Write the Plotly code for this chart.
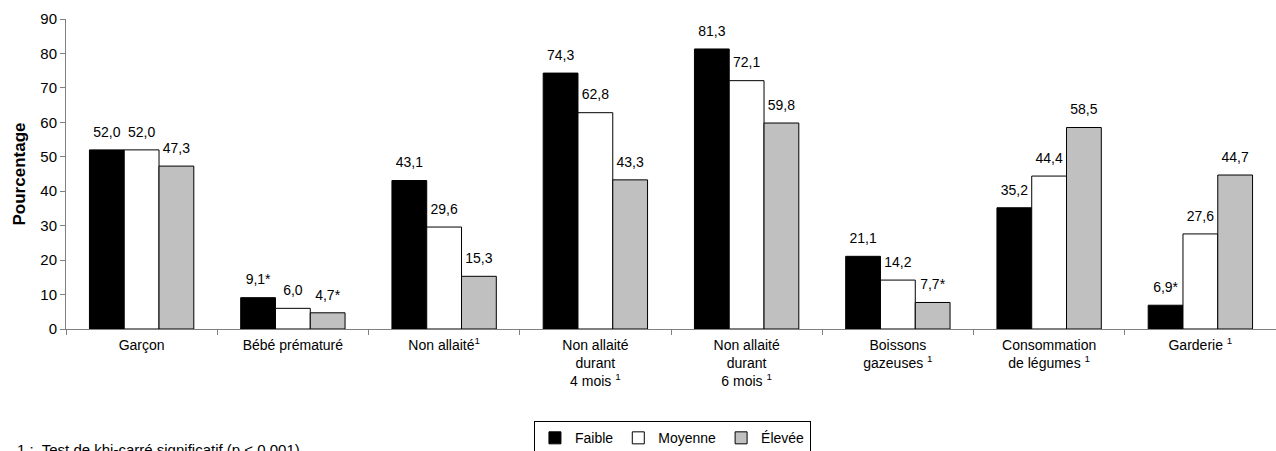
import plotly.graph_objects as go

# Catégories (axe des x) et séries par niveau
categories = [
    "Garçon",
    "Bébé prématuré",
    "Non allaité<sup>1</sup>",
    "Non allaité<br>durant<br>4 mois <sup>1</sup>",
    "Non allaité<br>durant<br>6 mois <sup>1</sup>",
    "Boissons<br>gazeuses <sup>1</sup>",
    "Consommation<br>de légumes <sup>1</sup>",
    "Garderie <sup>1</sup>",
]
faible = [52.0, 9.1, 43.1, 74.3, 81.3, 21.1, 35.2, 6.9]
moyenne = [52.0, 6.0, 29.6, 62.8, 72.1, 14.2, 44.4, 27.6]
elevee = [47.3, 4.7, 15.3, 43.3, 59.8, 7.7, 58.5, 44.7]

# Astérisque : estimation à interpréter avec prudence
faible_flag = [False, True, False, False, False, False, False, True]
moyenne_flag = [False] * 8
elevee_flag = [False, True, False, False, False, True, False, False]

FONT = "Arial, Liberation Sans, sans-serif"
GAP = 0.31


def labels(values, flags):
    out = []
    for v, f in zip(values, flags):
        s = f"{v:.1f}".replace(".", ",")
        out.append(s + ("*" if f else ""))
    return out


series = [
    ("Faible", faible, faible_flag, "#000000"),
    ("Moyenne", moyenne, moyenne_flag, "#ffffff"),
    ("Élevée", elevee, elevee_flag, "#c0c0c0"),
]

fig = go.Figure()
for name, vals, flags, color in series:
    fig.add_trace(go.Bar(
        name=name,
        x=categories,
        y=vals,
        offsetgroup=name,
        marker=dict(color=color, line=dict(color="#000000", width=1)),
    ))

# Étiquettes de valeur au-dessus de chaque barre
for name, vals, flags, color in series:
    fig.add_trace(go.Scatter(
        x=categories,
        y=vals,
        offsetgroup=name,
        mode="markers+text",
        marker=dict(size=14, color="rgba(0,0,0,0)"),
        text=labels(vals, flags),
        textposition="top center",
        textfont=dict(family=FONT, size=14, color="#000000"),
        cliponaxis=False,
        showlegend=False,
        hoverinfo="skip",
    ))

fig.update_layout(
    width=1276,
    height=451,
    margin=dict(l=66, r=0, t=19, b=122),
    paper_bgcolor="#ffffff",
    plot_bgcolor="#ffffff",
    barmode="group",
    bargap=GAP,
    bargroupgap=0,
    scattermode="group",
    scattergap=GAP,
    font=dict(family=FONT, size=14, color="#000000"),
    showlegend=True,
    legend=dict(
        orientation="h",
        xref="container",
        yref="container",
        x=0.527,
        xanchor="center",
        y=0.066,
        yanchor="top",
        bordercolor="#000000",
        borderwidth=1,
        font=dict(family=FONT, size=14),
        itemwidth=30,
        tracegroupgap=0,
    ),
    annotations=[
        dict(
            text="1 :  Test de khi-carré significatif (p < 0,001)",
            xref="paper", yref="paper",
            x=-0.042, y=-0.355,
            xanchor="left", yanchor="top",
            showarrow=False,
            font=dict(family=FONT, size=15),
        )
    ],
)

fig.update_xaxes(
    type="category",
    showline=True,
    linecolor="#808080",
    linewidth=1,
    ticks="outside",
    tickson="boundaries",
    ticklen=5,
    tickcolor="#808080",
    showgrid=False,
    tickfont=dict(family=FONT, size=14),
    ticklabelstandoff=3,
    automargin=False,
)
fig.update_yaxes(
    range=[0, 90],
    dtick=10,
    showline=True,
    linecolor="#808080",
    linewidth=1,
    ticks="outside",
    ticklen=5,
    tickcolor="#808080",
    showgrid=False,
    zeroline=False,
    tickfont=dict(family=FONT, size=15),
    title=dict(text="<b>Pourcentage</b>", font=dict(family=FONT, size=17), standoff=10),
    automargin=False,
)

fig.write_html("out.html")
